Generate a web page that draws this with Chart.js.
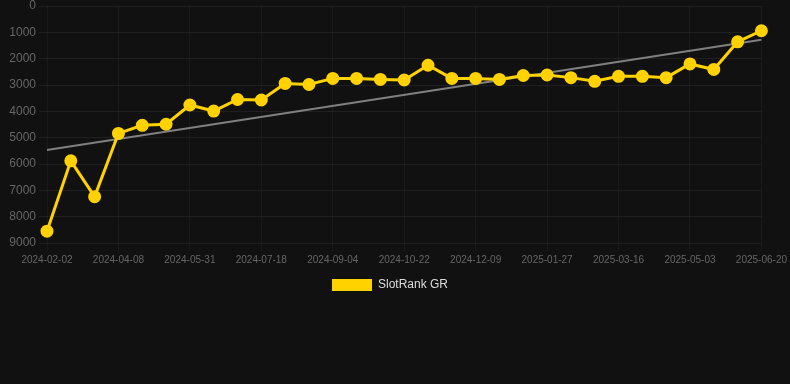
<!DOCTYPE html>
<html>
<head>
<meta charset="utf-8">
<script src="https://cdn.jsdelivr.net/npm/chart.js@4"></script>
<style>
  html, body { margin: 0; padding: 0; background: #111111; }
  #wrap { width: 790px; height: 301px; position: relative; }
</style>
</head>
<body>
<div id="wrap"><canvas id="chart"></canvas></div>
<script>
// Rank history, lower number = better rank
const dates = [
  '2024-02-02', '2024-02-24', '2024-03-17', '2024-04-08', '2024-04-25', '2024-05-13',
  '2024-05-31', '2024-06-16', '2024-07-02', '2024-07-18', '2024-08-03', '2024-08-19',
  '2024-09-04', '2024-09-20', '2024-10-06', '2024-10-22', '2024-11-07', '2024-11-23',
  '2024-12-09', '2024-12-25', '2025-01-10', '2025-01-27', '2025-02-12', '2025-02-28',
  '2025-03-16', '2025-04-01', '2025-04-17', '2025-05-03', '2025-05-19', '2025-06-04',
  '2025-06-20'
];
const rankGR = [
  8550, 5880, 7240, 4840, 4530, 4490,
  3760, 3990, 3550, 3570, 2940, 2980,
  2750, 2750, 2790, 2810, 2250, 2750,
  2750, 2790, 2640, 2620, 2720, 2860,
  2670, 2670, 2720, 2200, 2410, 1360,
  940
];
// trend line end points
const trendStart = 5470;
const trendEnd = 1280;

const yTicks = [0, 1000, 2000, 3000, 4000, 5000, 6000, 7000, 8000, 9000];

function buildTrend() {
  const arr = dates.map(() => null);
  arr[0] = trendStart;
  arr[arr.length - 1] = trendEnd;
  return arr;
}

function initChart() {
  const ctx = document.getElementById('chart').getContext('2d');
  Chart.defaults.font.family = '"Liberation Sans", Arial, sans-serif';

  new Chart(ctx, {
    type: 'line',
    data: {
      labels: dates,
      datasets: [{
        label: 'SlotRank GR',
        data: rankGR,
        borderColor: '#ffd200',
        backgroundColor: '#ffd200',
        borderWidth: 3,
        pointRadius: 5,
        pointHoverRadius: 6,
        tension: 0,
        fill: false
      }, {
        label: 'trend',
        data: buildTrend(),
        borderColor: '#808080',
        borderWidth: 2,
        pointRadius: 0,
        spanGaps: true,
        fill: false
      }]
    },
    options: {
      responsive: true,
      maintainAspectRatio: false,
      animation: false,
      layout: { autoPadding: false, padding: { left: 0, right: 10, top: 0, bottom: 0 } },
      plugins: {
        legend: {
          position: 'bottom',
          labels: {
            color: '#dddddd',
            boxWidth: 40,
            boxHeight: 12,
            font: { size: 12 },
            generateLabels: chart => {
              const items = Chart.defaults.plugins.legend.labels.generateLabels(chart);
              items.forEach(it => { it.lineWidth = 0; });
              return items.filter(it => it.text !== 'trend');
            }
          }
        },
        tooltip: { enabled: false }
      },
      scales: {
        y: {
          reverse: true,
          min: 0,
          max: 9000,
          afterBuildTicks: axis => {
            axis.ticks = yTicks.map(v => ({ value: v }));
          },
          afterFit: axis => {
            axis.width = 47;
            axis.paddingTop = 6;
          },
          ticks: {
            color: '#666666',
            font: { size: 12 },
            callback: v => String(v)
          },
          grid: { color: 'rgba(255,255,255,0.06)' },
          border: { display: false }
        },
        x: {
          ticks: {
            color: '#666666',
            font: { size: 10 },
            maxRotation: 0,
            autoSkip: true,
            maxTicksLimit: 11
          },
          grid: { color: 'rgba(255,255,255,0.04)' },
          border: { display: false }
        }
      }
    }
  });
}

document.addEventListener('DOMContentLoaded', initChart);
</script>
</body>
</html>
